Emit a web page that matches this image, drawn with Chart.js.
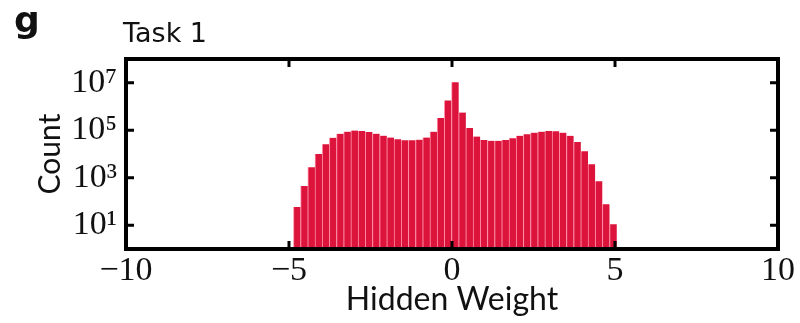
<!DOCTYPE html>
<html>
<head>
<meta charset="utf-8">
<script src="https://cdn.jsdelivr.net/npm/chart.js@4.4.1/dist/chart.umd.min.js"></script>
<style>
  html, body { margin: 0; padding: 0; background: #ffffff; }
  #wrap { width: 800px; height: 323px; }
</style>
</head>
<body>
<div id="wrap"><canvas id="c" width="800" height="323"></canvas></div>
<script>
// Histogram bin centres (Hidden Weight)
const binCenters = [
  -4.754, -4.534, -4.313, -4.093, -3.872, -3.652, -3.432, -3.211, -2.991, -2.770,
  -2.550, -2.330, -2.109, -1.889, -1.668, -1.448, -1.228, -1.007, -0.787, -0.566,
  -0.346, -0.126, 0.095, 0.315, 0.536, 0.756, 0.976, 1.197, 1.417, 1.638,
  1.858, 2.078, 2.299, 2.519, 2.740, 2.960, 3.180, 3.401, 3.621, 3.842,
  4.062, 4.282, 4.503, 4.723, 4.944
];
// Counts per bin
const counts = [
  59, 450, 2750, 10000, 26000, 48000, 71000, 87000, 97000, 94000,
  85000, 72000, 59000, 49000, 42000, 38000, 38000, 40000, 49000, 87000,
  330000, 1800000, 10500000, 560000, 123000, 54000, 39000, 36000, 36000, 39000,
  46000, 58000, 68000, 79000, 87000, 93000, 91000, 79000, 58000, 32000,
  13000, 3700, 720, 76, 11
];
const xTickValues = [-10, -5, 0, 5, 10];
const yTickValues = [10, 1000, 100000, 10000000];
const yTickLabels = ['10\u00B9', '10\u00B3', '10\u2075', '10\u2077'];
const panelLetter = 'g';
const panelTitle = 'Task 1';
const xTitle = 'Hidden Weight';
const yTitle = 'Count';

const points = binCenters.map((x, i) => ({ x: x, y: counts[i] }));

const framePlugin = {
  id: 'frame',
  afterDatasetsDraw(chart) {
    const { ctx, chartArea: a, scales: { x, y } } = chart;
    ctx.save();
    ctx.strokeStyle = '#000';
    ctx.lineWidth = 3;
    const tl = 8;
    ctx.beginPath();
    xTickValues.forEach(v => {
      const px = x.getPixelForValue(v);
      if (px <= a.left + 2 || px >= a.right - 2) return;
      ctx.moveTo(px, a.bottom); ctx.lineTo(px, a.bottom - tl);
      ctx.moveTo(px, a.top); ctx.lineTo(px, a.top + tl);
    });
    yTickValues.forEach(v => {
      const py = y.getPixelForValue(v);
      ctx.moveTo(a.left, py); ctx.lineTo(a.left + tl, py);
      ctx.moveTo(a.right, py); ctx.lineTo(a.right - tl, py);
    });
    ctx.stroke();
    ctx.lineWidth = 4;
    ctx.strokeRect(a.left, a.top, a.right - a.left, a.bottom - a.top);
    ctx.restore();
  },
  afterDraw(chart) {
    const ctx = chart.ctx;
    ctx.save();
    ctx.fillStyle = '#111';
    ctx.textBaseline = 'alphabetic';
    ctx.textAlign = 'left';
    ctx.font = 'bold 36px "DejaVu Sans"';
    ctx.fillText(panelLetter, 14, 32);
    ctx.font = '27px "DejaVu Sans"';
    ctx.fillText(panelTitle, 123, 42);
    ctx.restore();
  }
};

new Chart(document.getElementById('c'), {
  type: 'bar',
  data: {
    datasets: [{
      data: points,
      backgroundColor: '#DC143C',
      borderColor: 'rgba(255,120,150,0.8)',
      borderWidth: { left: 1, right: 0, top: 0, bottom: 0 },
      borderSkipped: false,
      barPercentage: 1.0,
      categoryPercentage: 1.0
    }]
  },
  options: {
    responsive: false,
    devicePixelRatio: 1,
    animation: false,
    layout: { padding: { top: 59, right: 22, left: 0, bottom: 0 } },
    plugins: { legend: { display: false }, tooltip: { enabled: false }, title: { display: false } },
    scales: {
      x: {
        type: 'linear',
        min: -10, max: 10,
        offset: false,
        grid: { display: false, drawTicks: false },
        border: { display: false },
        afterBuildTicks(scale) { scale.ticks = xTickValues.map(v => ({ value: v })); },
        afterFit(scale) { scale.height = 74; },
        ticks: {
          padding: 2,
          color: '#111',
          font: { family: '"Liberation Serif", "DejaVu Serif", serif', size: 34 },
          callback: v => (v < 0 ? '\u2212' + Math.abs(v) : String(v))
        },
        title: {
          display: true, text: xTitle, color: '#111',
          font: { family: 'Lato, "DejaVu Sans", sans-serif', size: 32 },
          padding: { top: 0, bottom: 4 }
        }
      },
      y: {
        type: 'logarithmic',
        min: 1, max: 100000000,
        grid: { display: false, drawTicks: false },
        border: { display: false },
        afterBuildTicks(scale) { scale.ticks = yTickValues.map(v => ({ value: v })); },
        afterFit(scale) { scale.width = 126; },
        ticks: {
          padding: 9,
          color: '#111',
          font: { family: '"Liberation Serif", "DejaVu Serif", serif', size: 34 },
          callback: v => { const i = yTickValues.indexOf(v); return i >= 0 ? yTickLabels[i] : ''; }
        },
        title: {
          display: true, text: yTitle, color: '#111',
          font: { family: 'Lato, "DejaVu Sans", sans-serif', size: 30 },
          padding: { top: 32, bottom: 0 }
        }
      }
    }
  },
  plugins: [framePlugin]
});
</script>
</body>
</html>
